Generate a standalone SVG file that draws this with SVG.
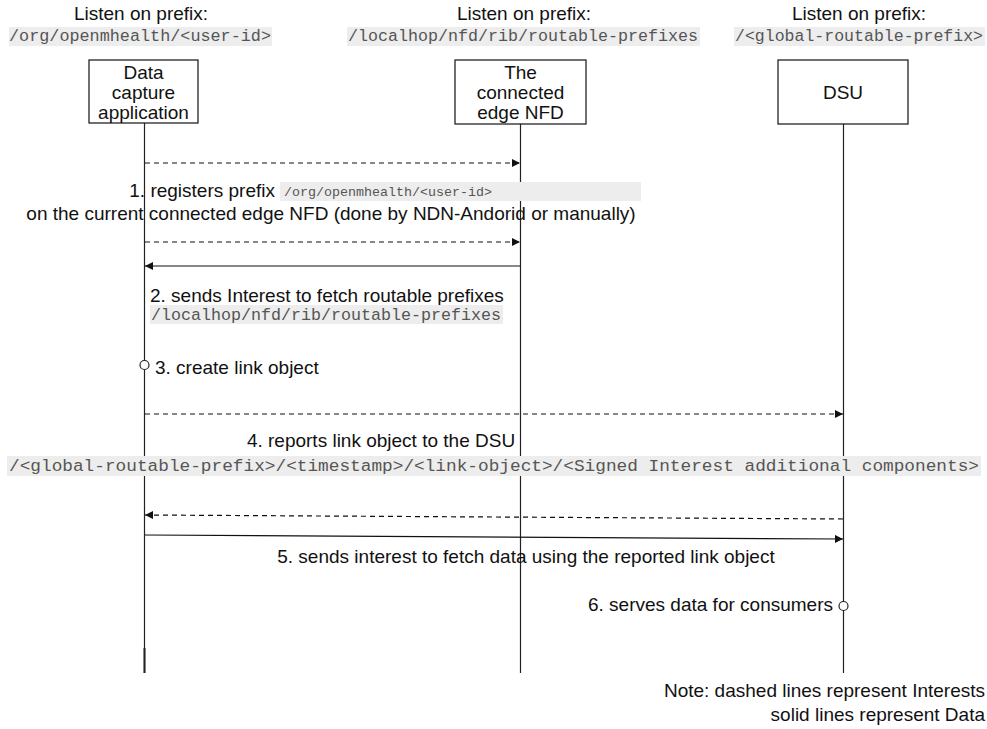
<svg xmlns="http://www.w3.org/2000/svg" width="987" height="729" viewBox="0 0 987 729">
<style>
.sans{font-family:"Liberation Sans",Arial,sans-serif;font-size:19px;fill:#111}
.mono{font-family:"Liberation Mono","Courier New",monospace;fill:#555}
.bg{fill:#ededed}
.box{fill:#fff;stroke:#111;stroke-width:1.2}
.life{stroke:#222;stroke-width:1.2;fill:none}
.msg{stroke:#111;stroke-width:1.2;fill:none}
.dash{stroke-dasharray:5 4}
.act{fill:#fff;stroke:#222;stroke-width:1.2}
</style>
<defs>
<marker id="ah" viewBox="0 0 10 10" refX="10" refY="5" markerWidth="10" markerHeight="8" markerUnits="userSpaceOnUse" orient="auto">
<path d="M0,0 L10,5 L0,10 Z" fill="#111"/>
</marker>
</defs>
<rect width="987" height="729" fill="#fff"/>

<g id="headers">
<text class="sans" x="141" y="20" text-anchor="middle">Listen on prefix:</text>
<rect class="bg" x="9" y="27" width="263" height="19"/>
<text class="mono" x="140" y="41" font-size="16.7" text-anchor="middle" textLength="262" lengthAdjust="spacingAndGlyphs">/org/openmhealth/&lt;user-id&gt;</text>
<text class="sans" x="524" y="20" text-anchor="middle">Listen on prefix:</text>
<rect class="bg" x="347" y="27" width="353" height="19"/>
<text class="mono" x="523" y="41" font-size="16.7" text-anchor="middle" textLength="350" lengthAdjust="spacingAndGlyphs">/localhop/nfd/rib/routable-prefixes</text>
<text class="sans" x="859" y="20" text-anchor="middle">Listen on prefix:</text>
<rect class="bg" x="734" y="27" width="251" height="19"/>
<text class="mono" x="859" y="41" font-size="16.7" text-anchor="middle" textLength="248" lengthAdjust="spacingAndGlyphs">/&lt;global-routable-prefix&gt;</text>
</g>

<g id="lifelines">
<line class="life" x1="144.5" y1="123" x2="144.5" y2="673"/>
<line x1="144.5" y1="648" x2="144.5" y2="673" stroke="#222" stroke-width="2"/>
<line class="life" x1="520.5" y1="124" x2="520.5" y2="673"/>
<line class="life" x1="843.5" y1="124" x2="843.5" y2="673"/>
</g>

<g id="node-app">
<rect class="box" x="89" y="60" width="109" height="63"/>
<text class="sans" x="143.5" y="79" text-anchor="middle">Data</text>
<text class="sans" x="143.5" y="99" text-anchor="middle">capture</text>
<text class="sans" x="143.5" y="119" text-anchor="middle">application</text>
</g>
<g id="node-nfd">
<rect class="box" x="455" y="60" width="131" height="64"/>
<text class="sans" x="520.5" y="79" text-anchor="middle">The</text>
<text class="sans" x="520.5" y="99" text-anchor="middle">connected</text>
<text class="sans" x="520.5" y="119" text-anchor="middle">edge NFD</text>
</g>
<g id="node-dsu">
<rect class="box" x="778" y="60" width="130" height="64"/>
<text class="sans" x="843" y="99" text-anchor="middle">DSU</text>
</g>

<g id="connectors">
<line class="msg dash" x1="145" y1="163" x2="520" y2="163" marker-end="url(#ah)"/>
<line class="msg dash" x1="145" y1="242" x2="520" y2="242" marker-end="url(#ah)"/>
<line class="msg" x1="520" y1="266" x2="145" y2="266" marker-end="url(#ah)"/>
<line class="msg dash" x1="145" y1="414" x2="843" y2="414" marker-end="url(#ah)"/>
<line class="msg dash" x1="843" y1="519" x2="145" y2="515" marker-end="url(#ah)"/>
<line class="msg" x1="145" y1="535" x2="843" y2="539" marker-end="url(#ah)"/>
</g>

<g id="activations">
<circle class="act" cx="144.5" cy="365" r="4.5"/>
<circle class="act" cx="843.5" cy="606" r="4.5"/>
</g>

<g id="labels">
<text class="sans" x="275" y="197" text-anchor="end">1. registers prefix</text>
<rect class="bg" x="280" y="182" width="361" height="19"/>
<text class="mono" x="284" y="196" font-size="13.4" textLength="208" lengthAdjust="spacingAndGlyphs">/org/openmhealth/&lt;user-id&gt;</text>
<text class="sans" x="331" y="220" text-anchor="middle">on the current connected edge NFD (done by NDN-Andorid or manually)</text>

<text class="sans" x="150" y="302">2. sends Interest to fetch routable prefixes</text>
<rect class="bg" x="150" y="305" width="353" height="19"/>
<text class="mono" x="151" y="320" font-size="16.7" textLength="350" lengthAdjust="spacingAndGlyphs">/localhop/nfd/rib/routable-prefixes</text>

<text class="sans" x="155" y="374">3. create link object</text>

<text class="sans" x="381" y="447" text-anchor="middle">4. reports link object to the DSU</text>
<rect class="bg" x="7" y="456" width="974" height="20"/>
<text class="mono" x="9" y="471" font-size="16.7" textLength="970" lengthAdjust="spacingAndGlyphs">/&lt;global-routable-prefix&gt;/&lt;timestamp&gt;/&lt;link-object&gt;/&lt;Signed Interest additional components&gt;</text>

<text class="sans" x="526" y="563" text-anchor="middle">5. sends interest to fetch data using the reported link object</text>

<text class="sans" x="833" y="611" text-anchor="end">6. serves data for consumers</text>

<text class="sans" x="985" y="697" text-anchor="end">Note: dashed lines represent Interests</text>
<text class="sans" x="985" y="721" text-anchor="end">solid lines represent Data</text>
</g>
</svg>
